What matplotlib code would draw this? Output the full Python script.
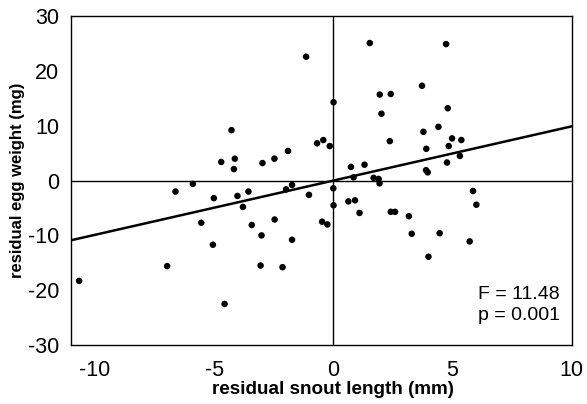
import matplotlib
matplotlib.use("Agg")
import matplotlib.pyplot as plt
import numpy as np

plt.rcParams['font.family'] = ['Liberation Sans', 'DejaVu Sans']
plt.rcParams['axes.unicode_minus'] = False

snout = [-10.66, -6.97, -6.62, -5.89, -5.54, -5.05, -5.01, -4.70, -4.56, -4.27,
         -4.13, -4.17, -4.02, -3.79, -3.56, -3.42, -3.05, -3.01, -2.97, -2.47,
         -2.46, -2.13, -1.98, -1.90, -1.73, -1.73, -1.14, -1.02, -0.68, -0.47,
         -0.42, -0.25, -0.15, 0.01, 0.00, 0.01, 0.63, 0.74, 0.85, 0.91,
         1.10, 1.31, 1.53, 1.69, 1.90, 1.94, 1.95, 2.02, 2.37, 2.41,
         2.41, 2.59, 3.17, 3.29, 3.72, 3.78, 3.89, 3.90, 3.96, 3.99,
         4.41, 4.46, 4.73, 4.77, 4.80, 4.84, 4.98, 5.31, 5.37, 5.72,
         5.86, 6.00]
egg = [-18.3, -15.6, -2.0, -0.6, -7.7, -11.7, -3.2, 3.4, -22.5, 9.2,
       4.0, 2.1, -2.8, -4.8, -2.0, -8.1, -15.5, -10.0, 3.2, 4.0,
       -7.1, -15.8, -1.6, 5.4, -0.8, -10.8, 22.6, -2.6, 6.8, -7.5,
       7.4, -8.0, 6.3, 14.3, -1.4, -4.5, -3.8, 2.5, 0.6, -3.6,
       -5.9, 2.9, 25.1, 0.5, 0.3, -0.5, 15.7, 12.2, 7.2, 15.8,
       -5.7, -5.7, -6.5, -9.7, 17.3, 8.9, 1.9, 5.8, 1.5, -13.9,
       9.8, -9.6, 24.9, 3.3, 13.2, 6.3, 7.7, 4.5, 7.4, -11.1,
       -1.9, -4.4]

fit_intercept = 0.0
fit_slope = 0.99
line_x = [-11, 10]

x_ticks = [-10, -5, 0, 5, 10]
y_ticks = [-30, -20, -10, 0, 10, 20, 30]
stats_text = "F = 11.48\np = 0.001"

fig = plt.figure(figsize=(5.87, 4.04), dpi=100)
ax = fig.add_axes([0.121, 0.146, 0.853, 0.814])

ax.axhline(0, color='black', lw=1.0, zorder=1)
ax.axvline(0, color='black', lw=1.0, zorder=1)
lx = np.array(line_x, dtype=float)
ax.plot(lx, fit_intercept + fit_slope * lx, color='black', lw=1.8, zorder=2)
ax.scatter(snout, egg, s=22, color='black', edgecolors='none', zorder=3)

ax.set_xlim(-11, 10)
ax.set_ylim(-30, 30)
ax.set_xticks(x_ticks)
ax.set_yticks(y_ticks)
ax.tick_params(length=0, labelsize=15.5)
ax.tick_params(axis='x', pad=11)
ax.tick_params(axis='y', pad=8.5)
for s in ax.spines.values():
    s.set_linewidth(1.0)

ax.set_xlabel("residual snout length (mm)", fontsize=13.6, fontweight='bold')
ax.xaxis.set_label_coords(0.524, -0.108)
ax.set_ylabel("residual egg weight (mg)", fontsize=12, fontweight='bold', va='center')
ax.yaxis.set_label_coords(-0.107, 0.5)

ax.text(0.812, 0.122, stats_text, transform=ax.transAxes, fontsize=14,
        ha='left', va='center', linespacing=1.27)

fig.savefig("out.png", dpi=100)
